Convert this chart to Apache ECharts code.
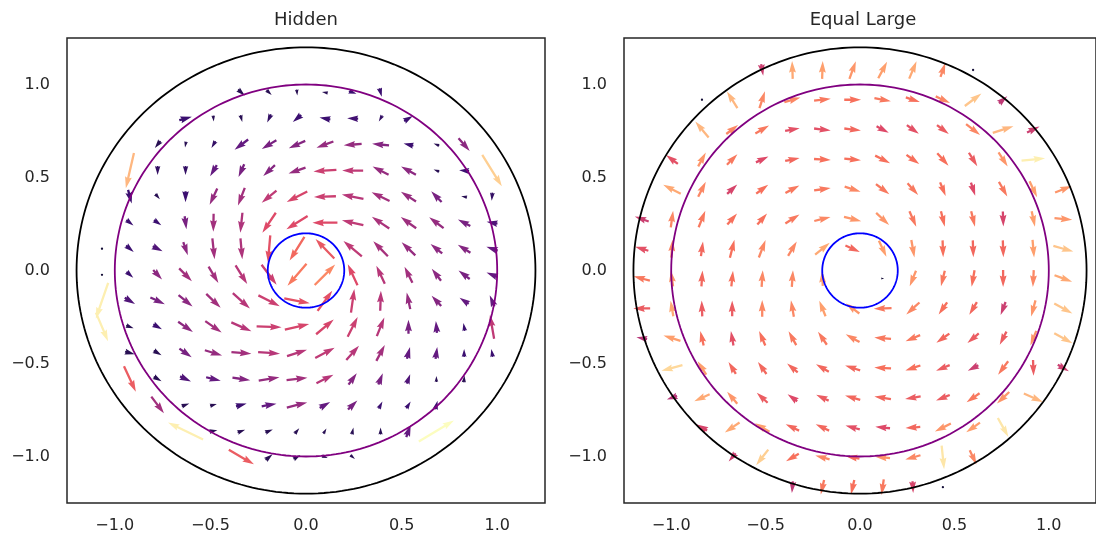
<!DOCTYPE html>
<html><head><meta charset="utf-8">
<script src="https://cdn.jsdelivr.net/npm/echarts@6/dist/echarts.min.js"></script>
<style>html,body{margin:0;padding:0;background:#fff}#chart{width:1096px;height:540px}</style>
</head><body><div id="chart"></div>
<script>
// ---------------- data ----------------
const tickValues = [-1, -0.5, 0, 0.5, 1];
const panelTitles = ['Hidden', 'Equal Large'];

// grid point positions (data units) of the vector samples
const hiddenGridX = [-1.067, -0.921, -0.776, -0.630, -0.484, -0.338, -0.193, -0.047, 0.099, 0.244, 0.390, 0.536, 0.682, 0.827, 0.973];
const hiddenGridY = [0.957, 0.817, 0.677, 0.537, 0.397, 0.257, 0.117, -0.023, -0.163, -0.303, -0.443, -0.583, -0.723, -0.863, -1.003];
const equalGridX = [-1.156, -0.996, -0.837, -0.677, -0.518, -0.358, -0.199, -0.039, 0.120, 0.280, 0.439, 0.599, 0.758, 0.918, 1.077];
const equalGridY = [1.078, 0.918, 0.758, 0.597, 0.437, 0.277, 0.117, -0.043, -0.204, -0.364, -0.524, -0.684, -0.844, -1.005, -1.165];

// [column, row, direction (deg), magnitude, colour value]
const hiddenArrows = [
[5,0,-42,9,0.15],[6,0,-43,7,0.15],[7,0,-85,6,0.15],[8,0,170,6,0.15],[9,0,-20,8,0.2],[10,0,-75,9,0.2],
[3,1,15,13,0.2],[4,1,-85,6,0.15],[5,1,-75,7,0.15],[6,1,-115,9,0.18],[7,1,-140,11,0.2],[8,1,170,11,0.2],[9,1,178,11,0.22],[10,1,-120,7,0.18],[11,1,30,10,0.2],
[2,2,-128,9,0.15],[3,2,-100,6,0.15],[4,2,-120,8,0.18],[5,2,-143,17,0.3],[6,2,-149,17,0.35],[7,2,-156,18,0.38],[8,2,-160,18,0.42],[9,2,-176,18,0.42],[10,2,175,17,0.38],[11,2,167,10,0.2],[12,2,160,6,0.15],[13,2,-49,17,0.4],
[1,3,-103,36,0.85],[2,3,-90,9,0.18],[3,3,-90,9,0.18],[4,3,-121,13,0.3],[5,3,-114,14,0.35],[6,3,-137,16,0.38],[7,3,-161,18,0.42],[8,3,-176,23,0.55],[9,3,180,21,0.52],[10,3,153,18,0.42],[11,3,151,17,0.4],[12,3,160,6,0.15],[13,3,175,10,0.2],[14,3,-58,37,0.9],
[1,4,-75,14,0.2],[2,4,-50,7,0.15],[3,4,-90,11,0.2],[4,4,-115,18,0.42],[5,4,-111,19,0.45],[6,4,-141,19,0.52],[7,4,-153,23,0.58],[8,4,-178,22,0.55],[9,4,169,22,0.5],[10,4,154,20,0.45],[11,4,147,18,0.42],[12,4,134,15,0.35],[13,4,170,6,0.15],[14,4,-95,8,0.18],
[1,5,-38,9,0.2],[2,5,-36,9,0.2],[3,5,-82,13,0.35],[4,5,-91,18,0.45],[5,5,-96,20,0.48],[6,5,-124,24,0.6],[7,5,-148,25,0.6],[8,5,180,25,0.6],[9,5,167,22,0.52],[10,5,146,21,0.47],[11,5,144,19,0.44],[12,5,143,18,0.42],[13,5,152,14,0.35],[14,5,170,11,0.25],
[0,6,0,1,0.1],[1,6,-40,10,0.2],[2,6,-27,11,0.25],[3,6,-71,14,0.4],[4,6,-84,21,0.45],[5,6,-85,21,0.48],[6,6,-95,27,0.62],[7,6,-122,28,0.68],[8,6,134,27,0.64],[9,6,140,24,0.52],[10,6,134,21,0.46],[11,6,136,19,0.42],[12,6,141,15,0.4],[13,6,147,15,0.38],[14,6,161,12,0.3],
[0,7,0,1,0.1],[1,7,-42,9,0.2],[2,7,-47,13,0.4],[3,7,-45,18,0.45],[4,7,-59,19,0.45],[5,7,-58,22,0.5],[6,7,-53,25,0.55],[7,7,-131,29,0.72],[8,7,45,29,0.75],[9,7,115,23,0.6],[10,7,115,20,0.5],[11,7,116,18,0.45],[12,7,128,15,0.4],[13,7,143,14,0.35],[14,7,158,12,0.3],
[0,8,-109,38,0.97],[1,8,-31,12,0.25],[2,8,-25,16,0.35],[3,8,-39,18,0.4],[4,8,-44,20,0.45],[5,8,-42,23,0.5],[6,8,-27,24,0.55],[7,8,-11,26,0.62],[8,8,54,25,0.62],[9,8,82,24,0.55],[10,8,88,20,0.5],[11,8,102,17,0.42],[12,8,133,14,0.38],[13,8,146,11,0.3],[14,8,113,12,0.3],
[0,9,-67,31,0.97],[1,9,-20,8,0.15],[2,9,-30,10,0.2],[3,9,-35,18,0.4],[4,9,-35,20,0.45],[5,9,-24,22,0.5],[6,9,-2,25,0.55],[7,9,13,25,0.58],[8,9,40,23,0.58],[9,9,63,22,0.55],[10,9,68,20,0.5],[11,9,90,14,0.35],[12,9,95,12,0.3],[13,9,100,8,0.2],[14,9,100,24,0.52],
[1,10,-15,10,0.15],[2,10,-30,9,0.15],[3,10,-35,15,0.35],[4,10,-17,18,0.42],[5,10,-5,20,0.45],[6,10,-4,22,0.5],[7,10,18,21,0.5],[8,10,28,22,0.52],[9,10,48,19,0.5],[10,10,62,18,0.45],[11,10,75,12,0.3],[12,10,82,12,0.3],[13,10,90,8,0.2],[14,10,100,8,0.2],
[1,11,-65,28,0.65],[2,11,-30,9,0.15],[3,11,-25,12,0.25],[4,11,-13,15,0.3],[5,11,-8,18,0.38],[6,11,9,21,0.42],[7,11,6,21,0.45],[8,11,27,19,0.5],[9,11,54,14,0.38],[10,11,68,12,0.35],[11,11,70,10,0.25],[12,11,90,6,0.15],[13,11,85,7,0.15],
[2,12,-53,21,0.45],[3,12,20,8,0.15],[4,12,15,7,0.15],[5,12,15,11,0.2],[6,12,10,15,0.3],[7,12,14,21,0.42],[8,12,29,12,0.3],[9,12,44,13,0.35],[10,12,62,8,0.2],[11,12,57,8,0.2],[12,12,75,9,0.2],
[3,13,154,39,0.97],[4,13,10,8,0.15],[5,13,20,8,0.15],[6,13,22,8,0.15],[7,13,50,7,0.15],[8,13,60,6,0.15],[9,13,77,7,0.15],[10,13,90,7,0.15],[11,13,70,13,0.3],[12,13,31,41,1.0],
[5,14,-30,29,0.65],[6,14,40,9,0.15],[7,14,30,8,0.15],[8,14,-20,6,0.15],[9,14,-40,6,0.15]
];

const equalArrows = [
[4,0,-80,12,0.55],[5,0,92,18,0.82],[6,0,88,18,0.8],[7,0,70,19,0.78],[8,0,62,19,0.8],[9,0,67,19,0.82],[10,0,71,15,0.75],[11,0,0,1,0.1],
[2,1,0,1,0.1],[3,1,122,20,0.85],[4,1,72,18,0.75],[5,1,16,17,0.75],[6,1,6,17,0.72],[7,1,0,17,0.7],[8,1,-11,17,0.72],[9,1,-18,15,0.7],[10,1,-25,16,0.75],[11,1,37,21,0.88],[12,1,41,11,0.52],
[2,2,130,21,0.85],[3,2,37,15,0.75],[4,2,30,16,0.72],[5,2,10,15,0.62],[6,2,-7,17,0.62],[7,2,-7,17,0.68],[8,2,-28,14,0.6],[9,2,-36,15,0.62],[10,2,-37,15,0.65],[11,2,-38,18,0.75],[12,2,18,22,0.85],[13,2,25,14,0.55],
[1,3,143,15,0.62],[2,3,61,16,0.78],[3,3,45,15,0.72],[4,3,25,14,0.6],[5,3,12,15,0.68],[6,3,-3,17,0.7],[7,3,-6,17,0.7],[8,3,-27,17,0.7],[9,3,-36,16,0.7],[10,3,-48,17,0.7],[11,3,-58,16,0.65],[12,3,-57,17,0.78],[13,3,6,24,0.97],
[1,4,153,20,0.82],[2,4,63,17,0.75],[3,4,43,14,0.58],[4,4,36,15,0.7],[5,4,28,16,0.72],[6,4,8,17,0.72],[7,4,-18,17,0.75],[8,4,-37,17,0.72],[9,4,-48,16,0.72],[10,4,-68,15,0.7],[11,4,-72,14,0.6],[12,4,-60,17,0.72],[13,4,-65,18,0.8],[14,4,22,18,0.78],
[0,5,160,15,0.55],[1,5,82,17,0.75],[2,5,68,18,0.72],[3,5,49,15,0.7],[4,5,49,15,0.7],[5,5,33,17,0.72],[6,5,14,17,0.75],[7,5,-14,18,0.78],[8,5,-43,18,0.78],[9,5,-66,17,0.72],[10,5,-76,16,0.7],[11,5,-76,16,0.72],[12,5,-88,15,0.58],[13,5,-78,16,0.8],[14,5,-5,18,0.78],
[0,6,163,14,0.62],[1,6,86,18,0.75],[2,6,82,15,0.68],[3,6,76,19,0.7],[4,6,69,19,0.75],[5,6,59,17,0.75],[6,6,39,19,0.82],[7,6,-24,16,0.68],[8,6,-65,18,0.8],[9,6,-80,18,0.78],[10,6,-88,17,0.7],[11,6,-88,17,0.68],[12,6,-88,17,0.68],[13,6,-85,18,0.8],[14,6,-16,21,0.88],
[0,7,165,17,0.72],[1,7,98,16,0.78],[2,7,86,16,0.68],[3,7,84,16,0.7],[4,7,86,17,0.75],[5,7,86,17,0.75],[6,7,93,15,0.8],[8,7,0,3,0.1],[9,7,-112,17,0.78],[10,7,-104,16,0.72],[11,7,-100,17,0.7],[12,7,-90,17,0.68],[13,7,-93,17,0.75],[14,7,-20,19,0.82],
[0,8,180,17,0.65],[1,8,100,16,0.82],[2,8,92,16,0.65],[3,8,90,16,0.65],[4,8,90,17,0.75],[5,8,100,17,0.75],[6,8,112,17,0.8],[7,8,143,17,0.78],[8,8,-178,18,0.72],[9,8,-138,18,0.75],[10,8,-125,15,0.7],[11,8,-121,15,0.68],[12,8,-111,14,0.55],[13,8,-105,17,0.78],[14,8,-29,21,0.88],
[0,9,170,11,0.5],[1,9,163,18,0.8],[2,9,103,15,0.7],[3,9,100,15,0.62],[4,9,113,16,0.7],[5,9,119,16,0.72],[6,9,124,16,0.72],[7,9,151,16,0.75],[8,9,175,17,0.72],[9,9,-157,16,0.72],[10,9,-145,16,0.68],[11,9,-140,15,0.65],[12,9,-117,15,0.65],[13,9,-112,16,0.78],[14,9,-29,21,0.88],
[1,10,-165,22,0.92],[2,10,123,16,0.8],[3,10,122,14,0.68],[4,10,125,15,0.68],[5,10,140,14,0.68],[6,10,150,15,0.68],[7,10,162,16,0.68],[8,10,177,17,0.7],[9,10,-162,16,0.7],[10,10,-157,15,0.65],[11,10,-153,12,0.55],[12,10,-127,17,0.72],[13,10,-88,16,0.65],[14,10,-30,13,0.55],
[1,11,-160,11,0.5],[2,11,-156,17,0.82],[3,11,130,16,0.78],[4,11,137,15,0.65],[5,11,144,12,0.6],[6,11,155,14,0.65],[7,11,164,16,0.68],[8,11,171,17,0.68],[9,11,-170,16,0.65],[10,11,-158,15,0.65],[11,11,-145,16,0.72],[12,11,-137,17,0.78],[13,11,-24,21,0.85],
[2,12,150,12,0.58],[3,12,-146,18,0.82],[4,12,150,17,0.8],[5,12,155,15,0.68],[6,12,155,15,0.68],[7,12,165,15,0.62],[8,12,174,15,0.6],[9,12,-176,15,0.68],[10,12,-154,18,0.78],[11,12,-145,17,0.8],[12,12,-61,22,0.95],
[3,13,-130,11,0.55],[4,13,-128,20,0.9],[5,13,-150,15,0.7],[6,13,165,15,0.75],[7,13,170,14,0.7],[8,13,175,15,0.78],[9,13,-164,16,0.75],[10,13,-84,24,0.95],[11,13,-65,16,0.75],
[5,14,-95,12,0.52],[6,14,-103,15,0.72],[7,14,-103,15,0.7],[8,14,-98,16,0.72],[9,14,-87,12,0.58],[10,14,0,1,0.1]
];

const circleRadii = [1.2, 1.0, 0.2];
const circleColors = ['#000000', '#800080', '#0000ff'];

// ---------------- rendering ----------------
const QUIVER_SCALE = 191.2;   // magnitude units per data unit
const SHAFT_W = 2.3;          // px
const MAGMA = ['#000004','#140e36','#3b0f70','#641a80','#8c2981','#b73779','#de4968','#f7705c','#fe9f6d','#fecf92','#fcfdbf'];
function hex2rgb(h){return [parseInt(h.substr(1,2),16),parseInt(h.substr(3,2),16),parseInt(h.substr(5,2),16)];}
const MAGMA_RGB = MAGMA.map(hex2rgb);
function magma(t){
  t = Math.max(0, Math.min(1, t));
  const s = t * (MAGMA.length - 1);
  const i = Math.min(Math.floor(s), MAGMA.length - 2);
  const f = s - i;
  const a = MAGMA_RGB[i], b = MAGMA_RGB[i + 1];
  return 'rgb(' + [0,1,2].map(k => Math.round(a[k] + (b[k] - a[k]) * f)).join(',') + ')';
}

function renderArrow(params, api){
  const c = api.coord([api.value(0), api.value(1)]);
  const pxPerUnit = api.size([1, 0])[0];
  const L = api.value(3) / QUIVER_SCALE * pxPerUnit;
  const ang = api.value(2) * Math.PI / 180;
  const ca = Math.cos(ang), sa = -Math.sin(ang);
  const color = magma(api.value(4));
  const w = SHAFT_W;
  if (L < w) {
    return {type:'circle', shape:{cx:c[0], cy:c[1], r:w * 0.5}, style:{fill:color}};
  }
  const hl = 5, hal = 4.5, hw = 3;
  const Lw = L / w;
  let xs, ys;
  if (Lw >= hl) {
    xs = [0, Lw - hal, Lw - hl, Lw, Lw - hl, Lw - hal, 0];
    ys = [0.5, 0.5, hw / 2, 0, -hw / 2, -0.5, -0.5];
  } else {
    const s = Lw / hl;
    xs = [0, hl - hal, 0, hl, 0, hl - hal, 0].map(v => v * s);
    ys = [0.5, 0.5, hw / 2, 0, -hw / 2, -0.5, -0.5].map(v => v * s);
  }
  const pts = xs.map((x, i) => {
    const X = x * w - L / 2, Y = ys[i] * w;
    return [c[0] + X * ca - Y * sa, c[1] + X * sa + Y * ca];
  });
  return {type:'polygon', shape:{points:pts}, style:{fill:color}};
}

function renderCircle(params, api){
  const r = api.value(2);
  const cx = api.value(0), cy = api.value(1);
  const pts = [];
  for (let i = 0; i <= 240; i++) {
    const t = i / 240 * 2 * Math.PI;
    pts.push(api.coord([cx + r * Math.cos(t), cy + r * Math.sin(t)]));
  }
  return {type:'polyline', shape:{points:pts}, style:{stroke:circleColors[params.dataIndex], lineWidth:1.8, fill:null}};
}

const fmt = v => (v < 0 ? '\u2212' : '') + Math.abs(v).toFixed(1);
const FONT = 'DejaVu Sans';
const TXT = '#262626';

function axis(gridIndex, isX){
  return {
    gridIndex, type:'value', min:-1.25, max:1.25,
    axisLine:{show:false}, axisTick:{show:false}, splitLine:{show:false},
    axisLabel:{customValues:tickValues, formatter:fmt, color:TXT, fontSize:16, fontFamily:FONT, margin: isX ? 15 : 17}
  };
}

const panels = [
  {grid:{left:67, top:38, width:478, height:465}, gx:hiddenGridX, gy:hiddenGridY, arrows:hiddenArrows, cx:306},
  {grid:{left:624, top:38, width:478, height:465}, gx:equalGridX, gy:equalGridY, arrows:equalArrows, cx:863}
];

const series = [];
panels.forEach((p, i) => {
  series.push({
    type:'custom', xAxisIndex:i, yAxisIndex:i, coordinateSystem:'cartesian2d',
    renderItem:renderArrow, encode:{x:0, y:1}, z:2, silent:true, animation:false,
    data:p.arrows.map(a => [p.gx[a[0]], p.gy[a[1]], a[2], a[3], a[4]])
  });
  series.push({
    type:'custom', xAxisIndex:i, yAxisIndex:i, coordinateSystem:'cartesian2d',
    renderItem:renderCircle, encode:{x:0, y:1}, z:3, silent:true, animation:false,
    data:circleRadii.map(r => [0, 0, r])
  });
});

const chart = echarts.init(document.getElementById('chart'), null, {renderer:'canvas'});
chart.setOption({
  backgroundColor:'#ffffff',
  animation:false,
  grid:panels.map(p => Object.assign({show:true, borderColor:TXT, borderWidth:1.5, backgroundColor:'transparent'}, p.grid)),
  xAxis:panels.map((p, i) => axis(i, true)),
  yAxis:panels.map((p, i) => axis(i, false)),
  graphic:panels.map((p, i) => ({
    type:'text', x:p.cx, y:20,
    style:{text:panelTitles[i], fill:TXT, font:'18px "DejaVu Sans"', textAlign:'center', textVerticalAlign:'middle'}
  })),
  series
});
</script></body></html>
